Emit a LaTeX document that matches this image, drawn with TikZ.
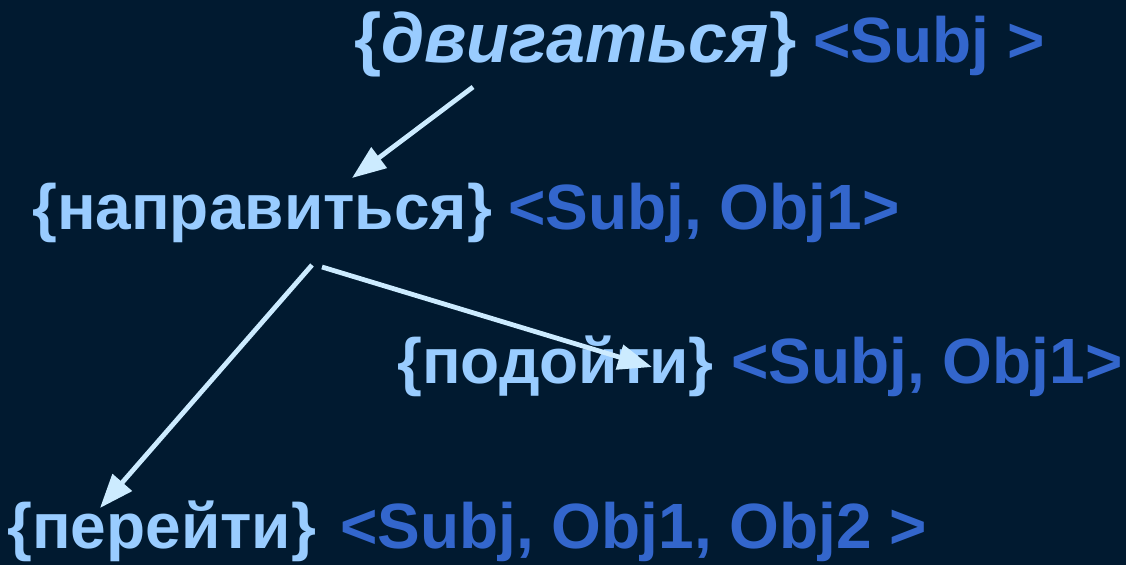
\documentclass[tikz,border=0pt]{standalone}
\usepackage{fontspec}
\setmainfont{Liberation Sans}
\usetikzlibrary{arrows.meta}
\definecolor{bg}{HTML}{011A30}
\definecolor{verb}{HTML}{99CCFF}
\definecolor{args}{HTML}{3366CC}
\definecolor{arr}{HTML}{CCEBFF}
\begin{document}
\begin{tikzpicture}[x=1pt,y=-1pt,
  txt/.style={anchor=base west,inner sep=0pt,font=\fontsize{64}{64}\selectfont\bfseries},
  verbtxt/.style={txt,text=verb},
  argtxt/.style={txt,text=args},
  link/.style={draw=arr,line width=4.8pt,-{Triangle[length=34pt,width=25pt]}}]
\fill[bg] (0,0) rectangle (1126,565);
\useasboundingbox (0,0) rectangle (1126,565);
% line 1
\node[verbtxt,font=\fontsize{70}{70}\selectfont\bfseries] (v1) at (354,62) {\{\textit{двигаться}\}};
\node[argtxt] (a1) at (813,62) {<Subj >};
% line 2
\node[verbtxt] (v2) at (32,229) {\{направиться\}};
\node[argtxt] (a2) at (508,229) {<Subj, Obj1>};
% line 3
\node[verbtxt] (v3) at (397,383) {\{подойти\}};
\node[argtxt] (a3) at (731,383) {<Subj, Obj1>};
% line 4
\node[verbtxt] (v4) at (7,548) {\{перейти\}};
\node[argtxt] (a4) at (340,548) {<Subj, Obj1, Obj2 >};
% arrow end points
\coordinate (p1s) at (473,87);
\coordinate (p1e) at (352,178);
\coordinate (p2s) at (322,267);
\coordinate (p2e) at (652,367);
\coordinate (p3s) at (312,265);
\coordinate (p3e) at (100,508);
\draw[link] (p1s) -- (p1e);
\draw[link] (p2s) -- (p2e);
\draw[link] (p3s) -- (p3e);
\end{tikzpicture}
\end{document}
